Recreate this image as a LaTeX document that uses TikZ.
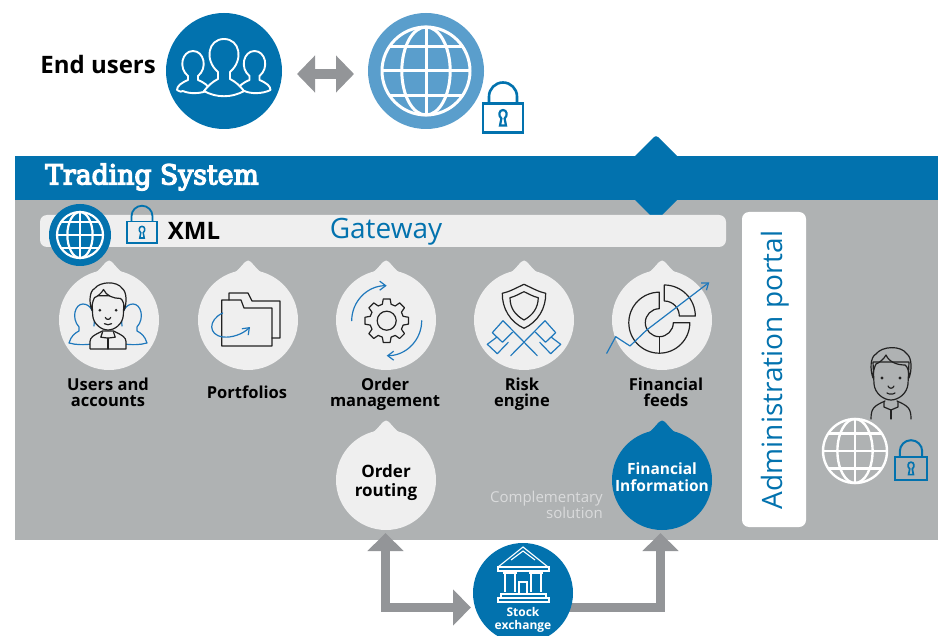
\documentclass[tikz,border=0pt]{standalone}
\usepackage{fontspec}
\setmainfont{Open Sans}
\newfontfamily\slabfont{DejaVu Serif}[FakeStretch=0.97]
\usetikzlibrary{arrows.meta}
\definecolor{tsblue}{HTML}{0272AE}
\definecolor{midblue}{HTML}{5A9ECC}
\definecolor{icoblue}{HTML}{1F78BC}
\definecolor{panelgray}{HTML}{AFB2B3}
\definecolor{arrowgray}{HTML}{939598}
\definecolor{lightfill}{HTML}{EFEFEF}
\definecolor{softtext}{HTML}{DADBDC}
\definecolor{inkline}{HTML}{222222}
\tikzset{
  dropdisc/.style={circle,minimum size=100pt,inner sep=0pt,align=center},
  boldlabel/.style={inner sep=0pt,align=center,text=black,font=\fontsize{16.5}{16}\selectfont\bfseries},
  fatarrow/.style={draw=arrowgray,line width=9pt,line join=miter},
  inkstroke/.style={draw=inkline,line width=1.2pt,line join=round,line cap=round},
  bluestroke/.style={draw=icoblue,line width=1.2pt,line join=round,line cap=round}
}
\newcommand\TearDrop[4]{%
  \begin{scope}[shift={(#2,#3)}]
    \fill[#4] (-20,-44) .. controls (-10,-48) and (-7,-54) .. (-3,-58)
      .. controls (-1,-60) and (1,-60) .. (3,-58)
      .. controls (7,-54) and (10,-48) .. (20,-44) -- cycle;
    \node[dropdisc,fill=#4] (#1) at (0,0) {};
  \end{scope}}
\newcommand\GlobeIcon[5]{% x y r lw colour
  \begin{scope}[shift={(#1,#2)},draw=#5,line width=#4pt]
    \draw (0,0) circle[radius=#3];
    \draw (0,0) ellipse[x radius=#3*0.55,y radius=#3];
    \draw (0,-#3) -- (0,#3);
    \draw (-#3,0) -- (#3,0);
    \draw (-#3*0.83,-#3*0.55) -- (#3*0.83,-#3*0.55);
    \draw (-#3*0.83,#3*0.55) -- (#3*0.83,#3*0.55);
  \end{scope}}
\newcommand\LockIcon[4]{% x ytopbody scale lw
  \begin{scope}[shift={(#1,#2)},scale=#3,draw=tsblue,line width=#4pt,line join=miter]
    \draw (-20,0) rectangle (20,29);
    \draw (-14,0) -- (-14,-7) arc[start angle=180,end angle=360,radius=14] -- (14,0);
    \draw[line width=#4pt*0.85] (-1.6,15) .. controls (-5,12) and (-4,6.5) .. (0,6.5)
      .. controls (4,6.5) and (5,12) .. (1.6,15) -- (3,22) -- (-3,22) -- cycle;
  \end{scope}}
\newcommand\ManHead[1]{%
  \draw[inkstroke,fill=#1] (-18,-38) -- (-17,-16) .. controls (-16,-6) and (-7,0) .. (0,0)
     .. controls (7,0) and (16,-6) .. (17,-16) -- (18,-38) -- cycle;
  \draw[inkstroke,fill=#1] (-18,-22) .. controls (-21,-30) and (-21,-43) .. (-15,-46)
     .. controls (-9,-54) and (10,-55) .. (16,-46)
     .. controls (21,-42) and (21,-30) .. (18,-22)
     .. controls (18,-28) and (17,-33) .. (14,-35)
     .. controls (6,-35) and (-2,-38) .. (-5,-45)
     .. controls (-7,-41) and (-12,-37) .. (-15,-36)
     .. controls (-17,-32) and (-18,-28) .. (-18,-22) -- cycle;
  \fill[inkline] (-9,-22) circle[radius=1.7];
  \fill[inkline] (9,-22) circle[radius=1.7];
  \draw[inkstroke] (-3,-14) .. controls (-2,-11) and (2,-11) .. (3,-14);
  \draw[inkstroke] (-4,-7) .. controls (-2,-5.5) and (2,-5.5) .. (4,-7);}
\begin{document}
\begin{tikzpicture}[x=1pt,y=1pt,yscale=-1]
\useasboundingbox (0,0) rectangle (942,636);
\fill[white] (0,0) rectangle (942,636);

% top row
\node[inner sep=0pt,anchor=east,text=black,font=\fontsize{24}{24}\selectfont\bfseries] (endusers) at (156,65) {End users};
\node[circle,fill=tsblue,minimum size=116pt,inner sep=0pt] (usersdisc) at (224,71) {};
\node[circle,fill=midblue,minimum size=116pt,inner sep=0pt] (webdisc) at (426,71) {};
\coordinate (pairL) at (297,74);
\coordinate (pairR) at (354,74);
\draw[draw=arrowgray,line width=10pt,{Triangle[width=36pt,length=18pt]}-{Triangle[width=36pt,length=18pt]}] (pairL) -- (pairR);
\begin{scope}[draw=white,line width=1.9pt,line join=round,fill=tsblue]
  \foreach \sx in {193,254.5}{
    \draw (\sx-10,91) .. controls (\sx-12,92) .. (\sx-16,90) .. controls (\sx-16,86) and (\sx-12,83) .. (\sx-5,80)
      -- (\sx-5,76) .. controls (\sx-15,68) and (\sx-11,51) .. (\sx,51)
      .. controls (\sx+11,51) and (\sx+15,68) .. (\sx+5,76) -- (\sx+5,80)
      .. controls (\sx+12,83) and (\sx+16,86) .. (\sx+16,90) .. controls (\sx+8,94) and (\sx-4,94) .. (\sx-10,91);
  }
  \draw[fill=tsblue] (204,91) .. controls (208,86) and (212,82) .. (218,79) -- (218,72)
     .. controls (204,60) and (208,39) .. (224,39)
     .. controls (240,39) and (244,60) .. (230,72) -- (230,79)
     .. controls (236,82) and (240,86) .. (244,91)
     .. controls (232,98) and (216,98) .. (204,91) -- cycle;
\end{scope}
\GlobeIcon{426}{71}{44}{3}{white}
\LockIcon{503}{103.5}{1}{2.6}

% panel
\fill[panelgray] (15,200) rectangle (938,540);
\fill[tsblue] (15,156) rectangle (938,200);
\fill[tsblue,rounded corners=3pt] (656,135) -- (699,178) -- (656,221) -- (613,178) -- cycle;
\node[inner sep=0pt,anchor=west,text=white,font=\slabfont\fontsize{27.5}{27.5}\selectfont] (tstitle) at (45,177) {\special{pdf:code 2 Tr 1.3 w 1 1 1 RG}Trading System\special{pdf:code 0 Tr 1 w}};

% gateway bar
\fill[lightfill,rounded corners=7pt] (40,215) rectangle (726,247);
\node[circle,fill=tsblue,minimum size=62pt,inner sep=0pt] (gwglobe) at (80,235) {};
\GlobeIcon{80}{235}{23}{2.2}{white}
\LockIcon{142}{221.5}{0.75}{1.8}
\node[inner sep=0pt,text=black,font=\fontsize{24}{24}\selectfont\bfseries] (xmllabel) at (194,231) {XML};
\node[inner sep=0pt,text=tsblue,font=\fontsize{28}{28}\selectfont] (gateway) at (386,232) {Gateway};

% admin portal
\fill[white,rounded corners=7pt] (742,212) rectangle (806,527);
\node[inner sep=0pt,rotate=90,text=tsblue,font=\fontsize{28}{28}\selectfont] (adminportal) at (775,370) {Administration portal};

% admin person
\begin{scope}[shift={(891,400)}]
  \ManHead{none}
  \draw[inkstroke] (-20,19) .. controls (-20,8) and (-17,6) .. (-6,1);
  \draw[inkstroke] (20,19) .. controls (20,8) and (17,6) .. (6,1);
  \draw[inkstroke] (-7,2) -- (-7,7) -- (0,10) -- (7,7) -- (7,2);
  \draw[inkstroke] (0,10) -- (0,19);
\end{scope}
\GlobeIcon{855}{451}{32}{2.4}{white}
\LockIcon{911}{457}{0.8}{2}

% service drops
\TearDrop{usersdrop}{109}{320}{lightfill}
\TearDrop{portdrop}{248}{320}{lightfill}
\TearDrop{orderdrop}{386}{320}{lightfill}
\TearDrop{riskdrop}{524}{320}{lightfill}
\TearDrop{feedsdrop}{662}{320}{lightfill}

% users icon
\begin{scope}[shift={(108,0)}]
  \foreach \ss in {-1,1}{
    \draw[bluestroke] (\ss*14,326) .. controls (\ss*12,312) and (\ss*18,304) .. (\ss*25,304)
       .. controls (\ss*33,304) and (\ss*37,318) .. (\ss*29,327) -- (\ss*29,331)
       .. controls (\ss*33,333) and (\ss*37,336) .. (\ss*39,343)
       .. controls (\ss*32,345) and (\ss*24,345) .. (\ss*16,344);
  }
\end{scope}
\begin{scope}[shift={(108,330)},scale=0.9]
  \draw[inkstroke,fill=lightfill] (-20,21) -- (-20,13) .. controls (-20,8) and (-16,6) .. (-6,1)
     -- (6,1) .. controls (16,6) and (20,8) .. (20,13) -- (20,21) -- cycle;
  \draw[inkstroke] (-6,2) -- (-8,8) -- (0,9) -- (8,8) -- (6,2);
  \draw[inkstroke] (0,9) -- (0,21);
  \ManHead{lightfill}
\end{scope}

% portfolios icon
\draw[inkstroke] (229,300) -- (229,293) -- (248,293) -- (252,301) -- (280,301) -- (280,338) -- (272,338);
\draw[inkstroke] (221.7,300) -- (241,300) -- (244,308) -- (272,308) -- (272,346) -- (221.7,346) -- cycle;
\draw[bluestroke,-{Straight Barb[length=6pt,width=9pt]}] (222.7,313) .. controls (208,320) and (208,335) .. (223,337)
   .. controls (232,338) and (243,334) .. (250,327);

% order management icon
\begin{scope}[shift={(386.7,320.7)}]
  \draw[inkstroke] (-15:17) \foreach \a in {0,45,...,315}{ -- (\a-15:17) -- (\a-9:22) -- (\a+9:22) -- (\a+15:17)} -- cycle;
  \draw[inkstroke] (0,0) circle[radius=9.5];
  \draw[bluestroke,-{Straight Barb[length=6pt,width=9pt]}] (-35,0) arc[start angle=180,end angle=270,radius=35];
  \draw[bluestroke,-{Straight Barb[length=6pt,width=9pt]}] (35,0) arc[start angle=0,end angle=90,radius=35];
\end{scope}

% risk icon
\draw[inkstroke] (524,284.3) .. controls (516,288) and (509,292) .. (502.3,293.3)
   .. controls (502,308) and (510,322) .. (524,328.3)
   .. controls (538,322) and (546,308) .. (545.7,293.3)
   .. controls (539,292) and (532,288) .. (524,284.3) -- cycle;
\draw[inkstroke] (524,291.7) .. controls (519,294) and (515,296.5) .. (510,297.7)
   .. controls (510,308) and (515,315) .. (524,320)
   .. controls (533,315) and (538,308) .. (538.3,297.7)
   .. controls (533,296.5) and (529,294) .. (524,291.7) -- cycle;
\begin{scope}[shift={(524,0)}]
  \foreach \ss in {-1,1}{
    \draw[bluestroke] (\ss*21,320.7) -- (-\ss*13.3,355.7);
    \draw[bluestroke] (\ss*21,320.7) -- (\ss*31.7,332.7) -- (\ss*21.5,342.3) -- (\ss*11.5,332.2);
    \draw[bluestroke] (\ss*27,337) -- (\ss*36.7,344.3) -- (\ss*26.7,353.7) -- (\ss*15.7,342.3) ;
  }
\end{scope}

% feeds icon
\begin{scope}[shift={(659.3,322.7)}]
  \draw[inkstroke] (0,-30.5) arc[start angle=270,end angle=0,radius=30.5] -- (14,0)
     arc[start angle=0,end angle=270,radius=14] -- cycle;
  \draw[inkstroke] (0,14) -- (0,30.5);
\end{scope}
\begin{scope}[shift={(664.3,316)}]
  \draw[inkstroke] (0,-31) arc[start angle=270,end angle=360,radius=31] -- (15,0)
     arc[start angle=360,end angle=270,radius=15] -- cycle;
\end{scope}
\draw[bluestroke,-{Straight Barb[length=6pt,width=9pt]}] (606.7,353.3) -- (615.7,336.7) -- (630,346) -- (646.7,330) -- (709.3,282.3);

% labels
\node[boldlabel] (usersl) at (108,392) {Users and\\accounts};
\node[boldlabel] (portl) at (247,392) {Portfolios};
\node[boldlabel] (orderl) at (385,394) {Order\\management};
\node[boldlabel] (riskl) at (522,394) {Risk\\engine};
\node[boldlabel] (feedsl) at (666,392) {Financial\\feeds};

% lower drops
\TearDrop{routing}{386}{480}{lightfill}
\node[inner sep=0pt,align=center,text=black,font=\fontsize{17}{19}\selectfont\bfseries] (routingl) at (386,483) {Order\\routing};
\TearDrop{fininfo}{662}{480}{tsblue}
\node[inner sep=0pt,align=center,text=white,font=\fontsize{15.5}{16.5}\selectfont\bfseries] (fininfol) at (662,477) {Financial\\Information};
\node[inner sep=0pt,anchor=east,align=right,text=softtext,font=\fontsize{15}{15.5}\selectfont] (complement) at (603,505) {Complementary\\solution};

% stock exchange
\coordinate (routeTip) at (385.5,533);
\coordinate (stockIn) at (471,607.5);
\coordinate (stockOut) at (523,607.5);
\coordinate (finTip) at (660.5,533);
\draw[fatarrow,{Triangle[width=35pt,length=18pt]}-{Triangle[width=35pt,length=18pt]}] (routeTip) |- (stockIn);
\draw[fatarrow,-{Triangle[width=35pt,length=18pt]}] (stockOut) -| (finTip);
\node[circle,fill=tsblue,minimum size=100pt,inner sep=0pt] (stock) at (523,593) {};
\begin{scope}[draw=white,line width=1.1pt,line join=miter]
  \draw (498,567) -- (523,547) -- (548,567);
  \draw (511,560) -- (523,551) -- (535,560);
  \draw (498,567) rectangle (549,571);
  \draw (505,573) -- (505,592);
  \draw (515,573) -- (515,592);
  \draw (531,573) -- (531,592);
  \draw (541,573) -- (541,592);
  \draw (503,573) -- (517,573);
  \draw (529,573) -- (543,573);
  \draw (519,582) rectangle (527,594);
  \draw (501,594) rectangle (546,598);
  \draw (498,598) rectangle (549,602);
\end{scope}
\node[inner sep=0pt,align=center,text=white,font=\fontsize{12}{13}\selectfont\bfseries] (stocklabel) at (523,620) {Stock\\exchange};
\end{tikzpicture}
\end{document}
